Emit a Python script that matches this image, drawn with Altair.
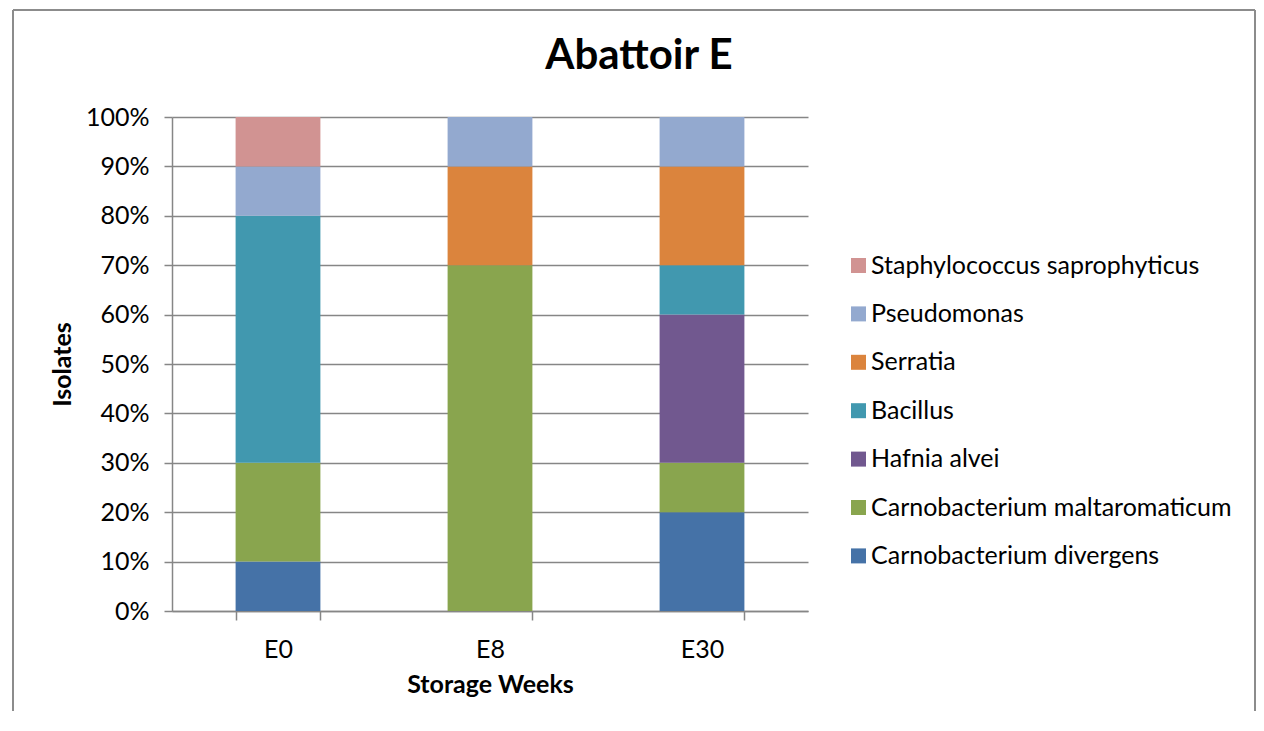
import altair as alt
import pandas as pd

categories = ["E0", "E8", "E30"]
species = [
    "Carnobacterium divergens",
    "Carnobacterium maltaromaticum",
    "Hafnia alvei",
    "Bacillus",
    "Serratia",
    "Pseudomonas",
    "Staphylococcus saprophyticus",
]
colors = ["#4572A7", "#89A54E", "#71588F", "#4198AF", "#DB843D", "#93A9CF", "#D19392"]
e0 = [10, 20, 0, 50, 0, 10, 10]
e8 = [0, 70, 0, 0, 20, 10, 0]
e30 = [20, 10, 30, 10, 20, 10, 0]
y_ticks = [0, 0.1, 0.2, 0.3, 0.4, 0.5, 0.6, 0.7, 0.8, 0.9, 1.0]
chart_title = ["Abattoir E"]

rows = []
for cat, vals in zip(categories, [e0, e8, e30]):
    for i, (sp, v) in enumerate(zip(species, vals)):
        if v > 0:
            rows.append({"week": cat, "species": sp, "value": v, "idx": i})
df = pd.DataFrame(rows)

FONT = "Lato"
GRAY = "#868686"

bars = alt.Chart(df).mark_bar().encode(
    x=alt.X(
        "week:N",
        sort=categories,
        scale=alt.Scale(paddingInner=0.6, paddingOuter=0.3),
        axis=alt.Axis(
            title="Storage Weeks",
            labelAngle=0,
            tickBand="extent",
            tickSize=9,
            labelPadding=17,
            titlePadding=10,
            labelFontSize=25,
            titleFontSize=25,
        ),
    ),
    y=alt.Y(
        "value:Q",
        stack="normalize",
        axis=alt.Axis(
            title="Isolates",
            values=y_ticks,
            format=".0%",
            tickSize=8,
            labelPadding=15,
            titlePadding=10,
            labelFontSize=25,
            titleFontSize=25,
            grid=True,
        ),
    ),
    color=alt.Color(
        "species:N",
        scale=alt.Scale(domain=species[::-1], range=colors[::-1]),
        legend=alt.Legend(
            title=None,
            orient="none",
            legendX=674,
            legendY=136,
            symbolType="square",
            symbolSize=225,
            symbolStrokeWidth=0,
            labelFontSize=25,
            labelOffset=0,
            labelLimit=0,
            rowPadding=22.4,
            padding=0,
        ),
    ),
    order=alt.Order("idx:Q", sort="ascending"),
)

title_text = alt.Chart(alt.Data(values=[{"t": t} for t in chart_title])).mark_text(
    font=FONT, fontSize=42, fontWeight="bold", color="black", align="center", baseline="alphabetic"
).encode(text="t:N", x=alt.value(467), y=alt.value(-48))

frame_left = alt.Chart(alt.Data(values=[{}])).mark_rule(color="#8c8c8c", strokeWidth=2).encode(
    x=alt.value(-159), y=alt.value(-107), y2=alt.value(620)
)
frame_right = alt.Chart(alt.Data(values=[{}])).mark_rule(color="#8c8c8c", strokeWidth=2).encode(
    x=alt.value(1083), y=alt.value(-107), y2=alt.value(620)
)
frame_top = alt.Chart(alt.Data(values=[{}])).mark_rule(color="#8c8c8c", strokeWidth=2).encode(
    x=alt.value(-159), x2=alt.value(1083), y=alt.value(-107)
)

chart = (
    alt.layer(bars, title_text, frame_left, frame_right, frame_top)
    .properties(
        width=636,
        height=494,
        autosize=alt.AutoSizeParams(type="none"),
        padding={"left": 164, "top": 109, "right": 448, "bottom": 100},
    )
    .configure_view(stroke=None)
    .configure_axis(
        domainColor=GRAY,
        tickColor=GRAY,
        gridColor=GRAY,
        domainWidth=1.5,
        tickWidth=1.5,
        gridWidth=1.5,
        labelFont=FONT,
        titleFont=FONT,
        labelColor="black",
        titleColor="black",
        titleFontWeight="bold",
    )
    .configure_legend(labelFont=FONT, labelColor="black")
)

chart.save("out.html", embed_options={"renderer": "svg", "actions": False})
